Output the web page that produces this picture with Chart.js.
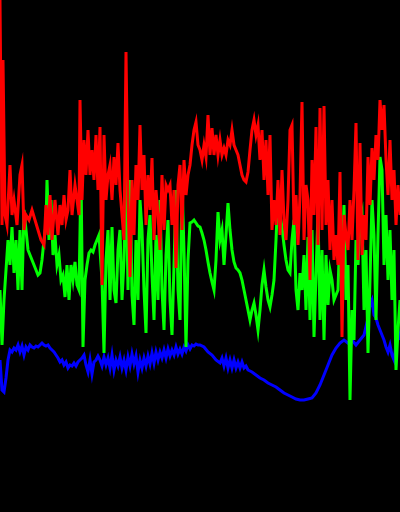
<!DOCTYPE html>
<html>
<head>
<meta charset="utf-8">
<title>RGB profile</title>
<script src="https://cdn.jsdelivr.net/npm/chart.js@4.4.0/dist/chart.umd.min.js"></script>
<style>
    html, body { margin: 0; padding: 0; background: #000; }
    #chart { display: block; background: #000; }
</style>
</head>
<body>
<canvas id="chart" width="400" height="512"></canvas>
<script>
const redX = [0, 2, 3, 5, 7, 10, 12, 14, 17, 20, 22, 24, 26, 29, 32, 35, 38, 41, 44, 46, 48, 50, 52, 55, 58, 60, 62, 64, 66, 68, 70, 72, 75, 77, 79, 80, 82, 84, 86, 88, 90, 92, 94, 96, 98,
    100, 102, 104, 106, 108, 110, 112, 114, 116, 118, 120, 122, 124, 126, 128, 130, 132, 134, 136, 138, 140, 142, 144, 146, 148, 150, 152, 154, 156, 158, 160, 162, 164, 166, 168, 170, 172, 174, 176, 178, 180, 182, 184, 186, 188, 190, 192, 194, 196, 198,
    200, 202, 204, 206, 208, 210, 212, 214, 216, 218, 220, 222, 224, 226, 228, 230, 232, 234, 236, 238, 240, 242, 244, 246, 248, 250, 252, 254, 256, 258, 260, 262, 264, 266, 268, 270, 272, 274, 276, 278, 280, 282, 284, 286, 288, 290, 292, 294, 296, 298,
    300, 302, 304, 306, 308, 310, 312, 314, 316, 318, 320, 322, 324, 326, 328, 330, 332, 334, 336, 338, 340, 342, 344, 346, 348, 350, 352, 354, 356, 358, 360, 362, 364, 366, 368, 370, 372, 374, 376, 378, 380, 382, 384, 386, 388, 390, 392, 394, 396, 398, 400];
const redY = [0, 225, 60, 215, 225, 165, 215, 200, 225, 175, 165, 230, 215, 220, 210, 220, 230, 240, 245, 205, 235, 195, 240, 200, 235, 205, 225, 195, 220, 210, 170, 215, 185, 200, 215, 100, 200, 140, 175, 130, 175, 150, 180, 135, 190,
    127, 285, 135, 200, 175, 165, 200, 157, 185, 143, 190, 215, 240, 52, 200, 277, 180, 235, 165, 200, 125, 190, 155, 225, 175, 210, 158, 240, 190, 215, 250, 175, 230, 185, 190, 185, 225, 190, 268, 185, 165, 230, 160, 195, 175, 165, 145, 130, 122, 145,
    150, 160, 145, 157, 115, 155, 128, 155, 135, 155, 140, 155, 148, 155, 140, 145, 130, 145, 150, 155, 165, 175, 180, 182, 172, 150, 130, 120, 135, 125, 160, 130, 180, 140, 195, 135, 230, 200, 225, 180, 235, 170, 220, 240, 200, 130, 125, 225, 195, 245,
    195, 102, 240, 185, 200, 280, 160, 215, 127, 245, 108, 230, 106, 225, 180, 250, 200, 260, 235, 265, 172, 337, 215, 235, 250, 200, 240, 190, 123, 260, 143, 255, 215, 240, 157, 205, 148, 180, 135, 160, 100, 130, 105, 160, 195, 140, 200, 170, 225, 185, 215];

const greenX = [0, 2, 4, 6, 8, 10, 12, 14, 16, 18, 20, 22, 24, 26, 28, 30, 32, 34, 36, 38, 40, 42, 44, 46, 47, 49, 51, 53, 55, 57, 59, 61, 63, 65, 67, 69, 71, 73, 75, 77, 79, 81, 83, 85, 87, 89, 91, 93, 95, 97, 99,
    100, 102, 104, 106, 108, 110, 112, 114, 116, 118, 120, 122, 124, 126, 128, 130, 132, 134, 136, 138, 140, 142, 144, 146, 148, 150, 152, 154, 156, 158, 160, 162, 164, 166, 168, 170, 172, 174, 176, 178, 180, 182, 184, 186, 188, 190, 192, 194, 196, 198,
    200, 202, 204, 206, 208, 210, 212, 214, 216, 218, 220, 222, 224, 226, 228, 230, 232, 234, 236, 238, 240, 242, 244, 246, 248, 250, 252, 254, 256, 258, 260, 262, 264, 266, 268, 270, 272, 274, 276, 278, 280, 282, 284, 286, 288, 290, 292, 294, 296, 298,
    300, 302, 304, 306, 308, 310, 312, 314, 316, 318, 320, 322, 324, 326, 328, 330, 332, 334, 336, 338, 340, 342, 344, 346, 348, 350, 352, 354, 356, 358, 360, 362, 364, 366, 368, 370, 372, 374, 376, 378, 380, 382, 384, 386, 388, 390, 392, 394, 396, 398, 400];
const greenY = [290, 345, 300, 270, 240, 265, 227, 273, 240, 290, 230, 290, 210, 230, 250, 255, 260, 265, 270, 275, 273, 260, 240, 225, 180, 240, 200, 255, 235, 265, 255, 280, 275, 297, 265, 300, 265, 280, 262, 285, 290, 173, 347, 280, 265, 253, 250, 252, 245, 240, 235,
    250, 280, 353, 260, 230, 300, 227, 290, 303, 250, 230, 300, 260, 167, 290, 180, 295, 325, 240, 300, 200, 230, 290, 333, 240, 215, 275, 320, 235, 300, 200, 290, 330, 255, 220, 300, 335, 265, 190, 290, 320, 183, 250, 347, 260, 223, 222, 220, 223, 226,
    227, 233, 240, 250, 262, 273, 282, 290, 260, 212, 240, 230, 265, 235, 203, 230, 250, 262, 268, 270, 273, 280, 290, 300, 310, 320, 310, 303, 315, 330, 310, 285, 270, 287, 300, 307, 295, 280, 240, 193, 215, 227, 245, 260, 270, 273, 240, 220, 290, 310,
    273, 290, 255, 310, 237, 320, 230, 337, 275, 213, 320, 250, 340, 255, 305, 270, 280, 300, 295, 290, 230, 270, 205, 300, 265, 400, 310, 340, 240, 265, 225, 215, 310, 250, 353, 280, 200, 235, 320, 235, 157, 170, 265, 215, 280, 230, 300, 250, 370, 330, 300];

const blueX = [0, 2, 4, 6, 8, 10, 12, 14, 16, 18, 20, 22, 24, 26, 28, 30, 32, 34, 36, 38, 40, 42, 44, 46, 48, 50, 52, 54, 56, 58, 60, 62, 64, 66, 68, 70, 72, 74, 76, 78, 80, 82, 84, 86, 88, 90, 92, 94, 96, 98,
    100, 102, 104, 106, 108, 110, 112, 114, 116, 118, 120, 122, 124, 126, 128, 130, 132, 134, 136, 138, 140, 142, 144, 146, 148, 150, 152, 154, 156, 158, 160, 162, 164, 166, 168, 170, 172, 174, 176, 178, 180, 182, 184, 186, 188, 190, 192, 194, 196, 198,
    200, 204, 208, 212, 216, 220, 222, 224, 226, 228, 230, 232, 234, 236, 238, 240, 242, 244, 246, 248, 252, 256, 260, 264, 268, 272, 276, 280, 284, 288, 292, 296,
    300, 304, 308, 312, 316, 320, 324, 328, 332, 336, 340, 344, 348, 352, 356, 360, 364, 368, 370, 372, 374, 376, 378, 380, 382, 384, 386, 388, 390, 392, 394, 396, 398, 400];
const blueY = [360, 390, 392, 378, 360, 350, 352, 348, 350, 345, 352, 346, 355, 347, 350, 345, 347, 348, 346, 347, 345, 343, 345, 346, 345, 348, 350, 352, 355, 358, 362, 360, 365, 362, 368, 365, 366, 363, 366, 362, 360, 358, 355, 365, 372, 360, 374, 362, 360, 356,
    360, 366, 357, 365, 358, 368, 355, 370, 360, 366, 357, 368, 360, 370, 357, 366, 354, 364, 356, 372, 360, 368, 358, 366, 356, 364, 353, 363, 352, 360, 352, 358, 350, 358, 349, 356, 350, 355, 347, 354, 349, 354, 347, 351, 345, 349, 345, 346, 344, 345,
    345, 347, 352, 355, 360, 363, 358, 366, 358, 368, 360, 368, 360, 368, 362, 368, 362, 368, 366, 370, 372, 375, 378, 380, 383, 385, 387, 390, 393, 395, 397, 399,
    400, 400, 399, 398, 393, 385, 375, 365, 355, 348, 343, 340, 343, 340, 345, 340, 335, 318, 305, 300, 315, 318, 325, 330, 335, 340, 347, 352, 345, 355, 360, 345, 330, 340];

function toPoints(xs, ys) {
    return xs.map((x, i) => ({ x: x, y: ys[i] }));
}

const ctx = document.getElementById('chart').getContext('2d');

// dataset 0 is painted last, so red sits on top, then green, then blue
new Chart(ctx, {
    type: 'line',
    data: {
        datasets: [
            { label: 'R', data: toPoints(redX, redY), borderColor: '#ff0000' },
            { label: 'G', data: toPoints(greenX, greenY), borderColor: '#00ff00' },
            { label: 'B', data: toPoints(blueX, blueY), borderColor: '#0000ff' }
        ]
    },
    options: {
        responsive: false,
        animation: false,
        events: [],
        layout: { padding: 0 },
        elements: {
            line: { borderWidth: 3, tension: 0, fill: false },
            point: { radius: 0 }
        },
        scales: {
            x: { type: 'linear', min: 0, max: 400, display: false },
            y: { min: 0, max: 512, reverse: true, display: false }
        },
        plugins: {
            legend: { display: false },
            tooltip: { enabled: false }
        }
    }
});
</script>
</body>
</html>
